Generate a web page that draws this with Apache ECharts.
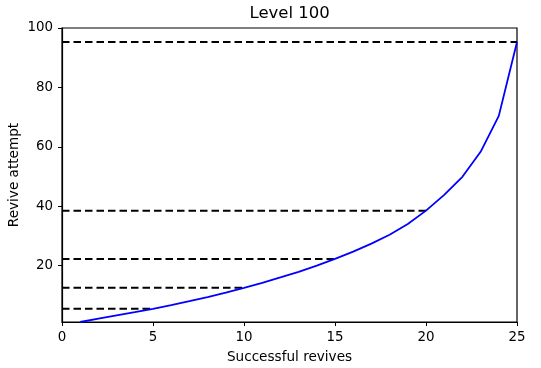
<!DOCTYPE html>
<html>
<head>
<meta charset="utf-8">
<script src="https://cdn.jsdelivr.net/npm/echarts@6/dist/echarts.min.js"></script>
<style>html,body{margin:0;padding:0;background:#fff}#c{width:541px;height:368px}</style>
</head>
<body>
<div id="c"></div>
<script>
const successes = [1,2,3,4,5,6,7,8,9,10,11,12,13,14,15,16,17,18,19,20,21,22,23,24,25];
const attempts = [1,2.1,3.2,4.3,5.45,6.7,8.0,9.4,10.9,12.5,14.2,16.0,17.9,20.0,22.25,24.7,27.4,30.4,34.0,38.5,43.8,49.9,58.3,70.4,95.3];
const markerX = [5,10,15,20,25];
const markerY = [5.45,12.5,22.25,38.5,95.3];
const yTicks = [20,40,60,80,100];
const titleText = 'Level 100';
const xName = 'Successful revives';
const yName = 'Revive attempt';

const font = 'DejaVu Sans';
const chart = echarts.init(document.getElementById('c'), null, {renderer:'canvas'});
const series = [];
markerX.forEach((mx, i) => {
  series.push({
    type:'line', data:[[0, markerY[i]], [mx, markerY[i]]], symbol:'none', silent:true,
    lineStyle:{color:'#000', width:2, type:[7.5,4]}, z:2
  });
});
series.push({
  type:'line', data: successes.map((s,i)=>[s, attempts[i]]), symbol:'none',
  lineStyle:{color:'#0000ff', width:1.8}, z:3
});
chart.setOption({
  animation:false,
  graphic:[
    {type:'text', left:289.5 - 40, top:5, style:{text:titleText, fontFamily:font, fontSize:16.5, fill:'#000'}},
    {type:'text', x:14, y:175, rotation:Math.PI/2,
      style:{text:yName, fontFamily:font, fontSize:13.6, fill:'#000', align:'center', verticalAlign:'middle'}}
  ],
  grid:{left:62, right:24, top:28, bottom:46, show:true, borderColor:'#000', borderWidth:1.2,
    containLabel:false, outerBoundsMode:'none'},
  xAxis:{type:'value', min:0, max:25, interval:5,
    name:xName, nameLocation:'middle', nameGap:28,
    nameTextStyle:{fontFamily:font, fontSize:13.6, color:'#000'},
    axisLine:{show:true, lineStyle:{color:'#000', width:1.2}},
    axisTick:{show:true, length:4, lineStyle:{color:'#000'}},
    axisLabel:{fontFamily:font, fontSize:13.4, color:'#000', margin:9},
    splitLine:{show:false}},
  yAxis:{type:'value', min:1, max:100,
    axisLine:{show:true, lineStyle:{color:'#000', width:1.2}},
    axisTick:{show:true, length:4, lineStyle:{color:'#000'}, customValues:yTicks},
    axisLabel:{fontFamily:font, fontSize:13.4, color:'#000', margin:9, customValues:yTicks},
    splitLine:{show:false}},
  series: series
});
</script>
</body>
</html>
